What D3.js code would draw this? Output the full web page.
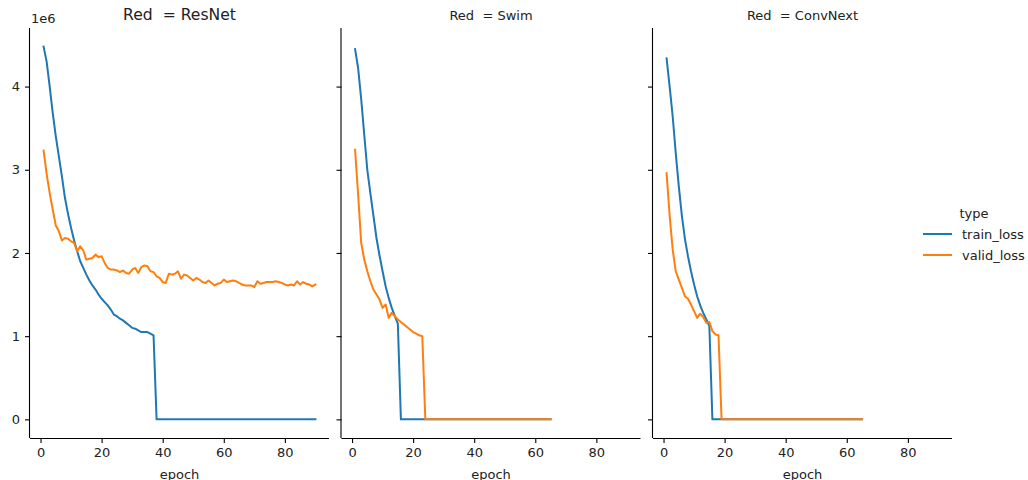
<!DOCTYPE html>
<html>
<head>
<meta charset="utf-8">
<script src="https://cdn.jsdelivr.net/npm/d3@7"></script>
<style>
  html, body { margin: 0; padding: 0; background: #fff; }
  svg { display: block; font-family: "DejaVu Sans", sans-serif; }
</style>
</head>
<body>
<svg id="chart" width="1028" height="480"></svg>
<script>
// ---- data ----
const models = ["ResNet", "Swim", "ConvNext"];
const seriesTypes = ["train_loss", "valid_loss"];
const xTicks = [0, 20, 40, 60, 80];
const yTicks = [0, 1, 2, 3, 4];

const resnetTrain = [4.48, 4.30, 4.00, 3.68, 3.40, 3.16, 2.92, 2.66, 2.47, 2.30,
  2.15, 2.02, 1.90, 1.82, 1.74, 1.67, 1.61, 1.56, 1.50, 1.45,
  1.41, 1.37, 1.32, 1.26, 1.24, 1.21, 1.19, 1.16, 1.13, 1.10,
  1.09, 1.07, 1.05, 1.05, 1.05, 1.03, 1.01, 0, 0, 0,
  0, 0, 0, 0, 0, 0, 0, 0, 0, 0,
  0, 0, 0, 0, 0, 0, 0, 0, 0, 0,
  0, 0, 0, 0, 0, 0, 0, 0, 0, 0,
  0, 0, 0, 0, 0, 0, 0, 0, 0, 0,
  0, 0, 0, 0, 0, 0, 0, 0, 0, 0];
const resnetValid = [3.23, 2.95, 2.72, 2.52, 2.33, 2.26, 2.15, 2.18, 2.17, 2.14,
  2.12, 2.02, 2.08, 2.03, 1.92, 1.93, 1.94, 1.98, 1.95, 1.96,
  1.88, 1.82, 1.80, 1.80, 1.79, 1.77, 1.79, 1.76, 1.75, 1.80,
  1.82, 1.76, 1.83, 1.85, 1.84, 1.78, 1.77, 1.72, 1.70, 1.65,
  1.64, 1.75, 1.74, 1.75, 1.78, 1.69, 1.74, 1.73, 1.70, 1.67,
  1.70, 1.68, 1.65, 1.64, 1.67, 1.64, 1.61, 1.63, 1.64, 1.68,
  1.65, 1.66, 1.67, 1.66, 1.64, 1.62, 1.61, 1.61, 1.61, 1.59,
  1.66, 1.63, 1.64, 1.65, 1.65, 1.65, 1.66, 1.65, 1.64, 1.62,
  1.61, 1.62, 1.61, 1.66, 1.62, 1.65, 1.63, 1.62, 1.60, 1.62];
const swimTrain = [4.45, 4.22, 3.85, 3.42, 3.00, 2.72, 2.45, 2.18, 1.97, 1.78,
  1.60, 1.46, 1.34, 1.24, 1.15, 0, 0, 0, 0, 0,
  0, 0, 0, 0, 0, 0, 0, 0, 0, 0,
  0, 0, 0, 0, 0, 0, 0, 0, 0, 0,
  0, 0, 0, 0, 0, 0, 0, 0, 0, 0,
  0, 0, 0, 0, 0, 0, 0, 0, 0, 0,
  0, 0, 0, 0, 0];
const swimValid = [3.24, 2.70, 2.12, 1.92, 1.78, 1.66, 1.56, 1.50, 1.44, 1.34,
  1.38, 1.22, 1.28, 1.24, 1.20, 1.17, 1.14, 1.11, 1.08, 1.05,
  1.03, 1.01, 1.00, 0, 0, 0, 0, 0, 0, 0,
  0, 0, 0, 0, 0, 0, 0, 0, 0, 0,
  0, 0, 0, 0, 0, 0, 0, 0, 0, 0,
  0, 0, 0, 0, 0, 0, 0, 0, 0, 0,
  0, 0, 0, 0, 0];
const convTrain = [4.34, 4.00, 3.64, 3.20, 2.80, 2.45, 2.17, 1.96, 1.78, 1.62,
  1.48, 1.37, 1.28, 1.20, 1.12, 0, 0, 0, 0, 0,
  0, 0, 0, 0, 0, 0, 0, 0, 0, 0,
  0, 0, 0, 0, 0, 0, 0, 0, 0, 0,
  0, 0, 0, 0, 0, 0, 0, 0, 0, 0,
  0, 0, 0, 0, 0, 0, 0, 0, 0, 0,
  0, 0, 0, 0, 0];
const convValid = [2.96, 2.45, 2.04, 1.78, 1.68, 1.58, 1.48, 1.45, 1.38, 1.30,
  1.22, 1.27, 1.23, 1.16, 1.17, 1.06, 1.02, 1.01, 0, 0,
  0, 0, 0, 0, 0, 0, 0, 0, 0, 0,
  0, 0, 0, 0, 0, 0, 0, 0, 0, 0,
  0, 0, 0, 0, 0, 0, 0, 0, 0, 0,
  0, 0, 0, 0, 0, 0, 0, 0, 0, 0,
  0, 0, 0, 0, 0];

const panelSeries = {
  ResNet: { train_loss: resnetTrain, valid_loss: resnetValid },
  Swim: { train_loss: swimTrain, valid_loss: swimValid },
  ConvNext: { train_loss: convTrain, valid_loss: convValid }
};

// ---- layout ----
const colors = { train_loss: "#1f77b4", valid_loss: "#ff7f0e" };
const panelLeft = [30, 341.5, 653];
const panelW = 299;
const plotTop = 28, plotBottom = 438;
const svg = d3.select("#chart");

// shared domains with matplotlib-like 5% margins
const allX = [], allY = [];
models.forEach(m => seriesTypes.forEach(t => {
  panelSeries[m][t].forEach((v, i) => { allX.push(i + 1); allY.push(v); });
}));
const xe = d3.extent(allX), ye = d3.extent(allY);
const xp = (xe[1] - xe[0]) * 0.05, yp = (ye[1] - ye[0]) * 0.05;
const y = d3.scaleLinear().domain([ye[0] - yp, ye[1] + yp]).range([plotBottom, plotTop]);

models.forEach((m, pi) => {
  const left = panelLeft[pi];
  const x = d3.scaleLinear().domain([xe[0] - xp, xe[1] + xp]).range([left, left + panelW]);
  const g = svg.append("g");

  // lines
  seriesTypes.forEach(t => {
    const data = panelSeries[m][t].map((v, i) => [i + 1, v]);
    g.append("path")
      .datum(data)
      .attr("fill", "none")
      .attr("stroke", colors[t])
      .attr("stroke-width", 2)
      .attr("stroke-linejoin", "round")
      .attr("stroke-linecap", "square")
      .attr("d", d3.line().x(d => x(d[0])).y(d => y(d[1])));
  });

  // x axis
  const xa = g.append("g")
    .attr("transform", `translate(0,${plotBottom})`)
    .call(d3.axisBottom(x).tickValues(xTicks).tickSize(5).tickPadding(5).tickFormat(d3.format("d")));
  xa.select(".domain").attr("stroke", "#000").attr("stroke-width", 1.1)
    .attr("d", `M${left},0.5H${left + panelW}`);
  xa.selectAll(".tick line").attr("stroke", "#000").attr("stroke-width", 1.1);
  xa.selectAll(".tick text").attr("font-size", 13).attr("fill", "#222")
    .attr("font-family", "DejaVu Sans, sans-serif");

  // y axis
  const ya = g.append("g")
    .attr("transform", `translate(${left},0)`)
    .call(d3.axisLeft(y).tickValues(yTicks).tickSize(5).tickPadding(5)
      .tickFormat(pi === 0 ? d3.format("d") : ""));
  ya.select(".domain").attr("stroke", "#000").attr("stroke-width", 1.1)
    .attr("d", `M-0.5,${plotTop}V${plotBottom}`);
  ya.selectAll(".tick line").attr("stroke", "#000").attr("stroke-width", 1.1);
  ya.selectAll(".tick text").attr("font-size", 13).attr("fill", "#222")
    .attr("font-family", "DejaVu Sans, sans-serif");

  // titles
  g.append("text")
    .attr("x", left + panelW / 2)
    .attr("y", 20)
    .attr("text-anchor", "middle")
    .attr("font-size", pi === 0 ? 15.6 : 13)
    .attr("fill", "#222")
    .text("Red  = " + m)
    .style("white-space", "pre");

  // x label
  g.append("text")
    .attr("x", left + panelW / 2)
    .attr("y", 479)
    .attr("text-anchor", "middle")
    .attr("font-size", 13)
    .attr("fill", "#222")
    .text("epoch");

  if (pi === 0) {
    g.append("text")
      .attr("x", left + 1)
      .attr("y", 23)
      .attr("font-size", 13)
      .attr("fill", "#222")
      .text("1e6");
  }
});

// legend
const lg = svg.append("g");
lg.append("text").attr("x", 974).attr("y", 218).attr("text-anchor", "middle")
  .attr("font-size", 13).attr("fill", "#222").text("type");
seriesTypes.forEach((t, i) => {
  const ly = 234 + i * 21;
  lg.append("line").attr("x1", 923).attr("x2", 952).attr("y1", ly).attr("y2", ly)
    .attr("stroke", colors[t]).attr("stroke-width", 2);
  lg.append("text").attr("x", 962).attr("y", ly + 4.5)
    .attr("font-size", 13).attr("fill", "#222").text(t);
});
</script>
</body>
</html>
